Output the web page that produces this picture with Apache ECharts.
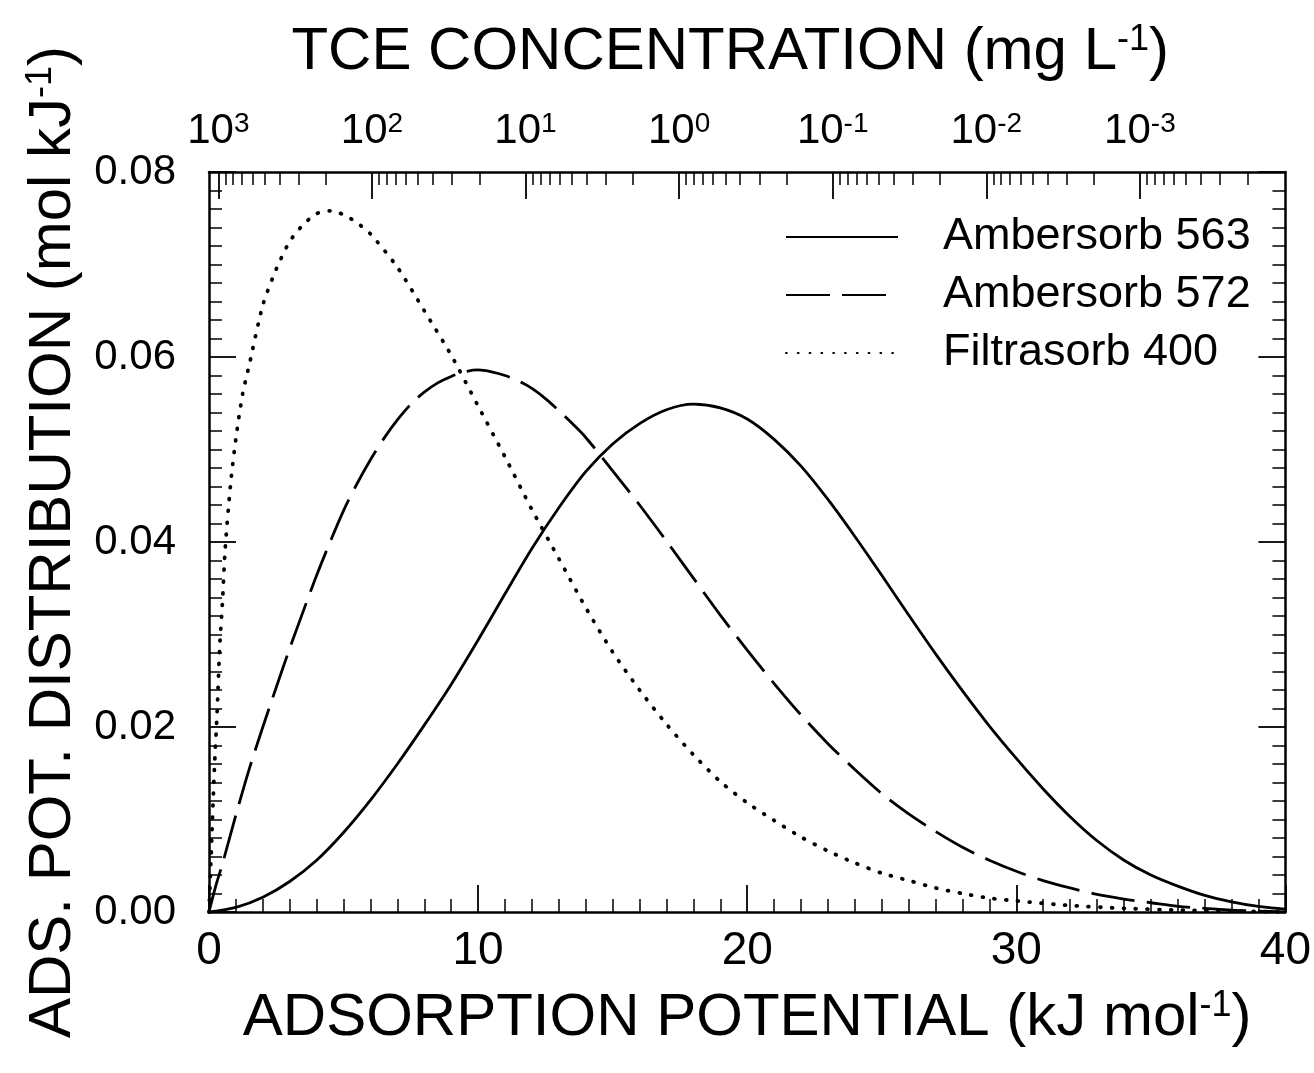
<!DOCTYPE html>
<html>
<head>
<meta charset="utf-8">
<script src="https://cdn.jsdelivr.net/npm/echarts@6/dist/echarts.min.js"></script>
<style>
  html, body { margin: 0; padding: 0; background: #fff; }
  #chart { width: 1314px; height: 1073px; }
</style>
</head>
<body>
<div id="chart"></div>
<script>
// adsorption potential (kJ/mol) and distribution values
const potential563 = [0,1,2,3,4,5,6,7,8,9,10,11,12,13,14,15,16,17,18,19,20,21,22,23,24,25,26,27,28,29,30,31,32,33,34,35,36,37,38,39,40];
const dist563 = [0,0.0005,0.0016,0.0033,0.0056,0.0086,0.0121,0.0160,0.0202,0.0246,0.0294,0.0344,0.0393,0.0437,0.0476,0.0506,0.0528,0.0543,0.0549,0.0545,0.0533,0.0511,0.0482,0.0446,0.0406,0.0364,0.0321,0.0279,0.0239,0.0201,0.0166,0.0133,0.0103,0.0077,0.0056,0.0040,0.0028,0.0018,0.0011,0.0006,0.0003];

const potential572 = [0,0.25,0.5,1,1.5,2,2.5,3,3.5,4,4.5,5,5.5,6,6.5,7,7.5,8,8.5,9,9.5,10,10.5,11,11.5,12,12.5,13,13.5,14,15,16,17,18,19,20,21,22,23,24,25,26,27,28,29,30,31,32,33,34,35,36,37,38,39,40];
const dist572 = [0,0.0028,0.0052,0.0105,0.0155,0.0200,0.0243,0.0285,0.0325,0.0364,0.0400,0.0434,0.0463,0.0489,0.0512,0.0532,0.0549,0.0562,0.0572,0.0579,0.0584,0.0586,0.0584,0.0580,0.0574,0.0566,0.0555,0.0542,0.0528,0.0513,0.0477,0.0440,0.0401,0.0361,0.0321,0.0283,0.0247,0.0213,0.0182,0.0154,0.0128,0.0106,0.0087,0.0070,0.0056,0.0044,0.0034,0.0026,0.0019,0.0014,0.0010,0.0006,0.0004,0.0002,0.0001,0];

const potential400 = [0,0.1,0.2,0.3,0.4,0.5,0.6,0.8,1,1.25,1.5,2,2.5,3,3.5,4,4.5,5,5.5,6,7,8,9,10,11,12,13,14,15,16,17,18,19,20,21,22,23,24,25,26,27,28,29,30,32,34,36,38,40];
const dist400 = [0,0.0078,0.0155,0.0215,0.0288,0.0335,0.0392,0.0462,0.0512,0.0560,0.0592,0.0656,0.0695,0.0725,0.0743,0.0755,0.0758,0.0754,0.0745,0.0733,0.0697,0.0650,0.0602,0.0547,0.0492,0.0435,0.0382,0.0329,0.0281,0.0240,0.0203,0.0170,0.0141,0.0118,0.0099,0.0081,0.0066,0.0053,0.0042,0.0034,0.0026,0.0020,0.0015,0.0012,0.0007,0.0004,0.0002,0.0001,0];

const seriesNames = ['Ambersorb 563', 'Ambersorb 572', 'Filtrasorb 400'];

// top axis: TCE concentration (mg/L), log ticks
const concMajorExp = [3, 2, 1, 0, -1, -2, -3];
const concMinorMult = [2, 3, 4, 5, 6, 7, 8, 9];
const concMinorExp = [2, 1, 0, -1, -2, -3, -4];
const solubility = 1150;      // mg/L
const RT = 8.314e-3 * 298.15; // kJ/mol

const FONT = '"Liberation Sans", Arial, Helvetica, sans-serif';

function potentialOf(c) {
    return RT * Math.log(solubility / c);
}
let majorPos = concMajorExp.map(k => potentialOf(Math.pow(10, k)));
let minorPos = [];
concMinorExp.forEach(k => {
    concMinorMult.forEach(m => {
        let e = potentialOf(m * Math.pow(10, k));
        if (e >= 0 && e <= 40) minorPos.push(e);
    });
});

function pairs(xs, ys) {
    return xs.map((x, i) => [x, ys[i]]);
}

let myChart = echarts.init(document.getElementById('chart'));

let axisLine = { show: true, onZero: false, lineStyle: { color: '#000', width: 2.5 } };
let sup = { fontSize: 28, verticalAlign: 'top', fontFamily: FONT, color: '#000' };
let supTitle = { fontSize: 36, verticalAlign: 'top', fontFamily: FONT, color: '#000' };

let option = {
    backgroundColor: '#fff',
    animation: false,
    grid: { left: 209, right: 28, top: 172, bottom: 161 },
    legend: {
        orient: 'vertical',
        left: 780,
        top: 207,
        itemWidth: 112,
        itemHeight: 10,
        itemGap: 8,
        data: seriesNames,
        itemStyle: { opacity: 0 },
        textStyle: { color: '#000', fontSize: 45, fontFamily: FONT, lineHeight: 50, padding: [0, 0, 0, 40] }
    },
    xAxis: [
        {
            type: 'value',
            position: 'bottom',
            min: 0, max: 40, interval: 10,
            name: 'ADSORPTION POTENTIAL (kJ mol{sup|-1})',
            nameLocation: 'middle',
            nameGap: 76,
            nameTextStyle: { color: '#000', fontSize: 60, fontFamily: FONT, rich: { sup: supTitle } },
            axisLine: axisLine,
            axisTick: { inside: true, length: 27, lineStyle: { color: '#000', width: 1.8 } },
            minorTick: { show: true, splitNumber: 10, length: 13, lineStyle: { color: '#000', width: 1.5 } },
            axisLabel: { color: '#000', fontSize: 46, fontFamily: FONT, margin: 16 },
            splitLine: { show: false }
        },
        {
            type: 'value',
            position: 'top',
            min: 0, max: 40,
            name: 'TCE CONCENTRATION (mg L{sup|-1})',
            nameLocation: 'middle',
            nameGap: 90,
            nameTextStyle: { color: '#000', fontSize: 60, fontFamily: FONT, padding: [0, 34, 0, 0], rich: { sup: supTitle } },
            axisLine: axisLine,
            axisTick: { inside: true, length: 27, customValues: majorPos, lineStyle: { color: '#000', width: 1.8 } },
            axisLabel: {
                color: '#000', fontSize: 42, fontFamily: FONT, margin: 20,
                customValues: majorPos,
                formatter: function (v) {
                    let k = Math.round(Math.log10(solubility) - v / (RT * Math.LN10));
                    return '10{sup|' + k + '}';
                },
                rich: { sup: sup }
            },
            splitLine: { show: false }
        },
        {
            type: 'value',
            position: 'top',
            min: 0, max: 40,
            axisLine: { show: false, onZero: false },
            axisTick: { inside: true, length: 13, customValues: minorPos, lineStyle: { color: '#000', width: 1.5 } },
            axisLabel: { show: false },
            splitLine: { show: false }
        }
    ],
    yAxis: [
        {
            type: 'value',
            position: 'left',
            min: 0, max: 0.08, interval: 0.02,
            name: 'ADS. POT. DISTRIBUTION (mol kJ{sup|-1})',
            nameLocation: 'middle',
            nameGap: 124,
            nameTextStyle: { color: '#000', fontSize: 60, fontFamily: FONT, rich: { sup: supTitle } },
            axisLine: axisLine,
            axisTick: { inside: true, length: 27, lineStyle: { color: '#000', width: 1.8 } },
            minorTick: { show: true, splitNumber: 10, length: 13, lineStyle: { color: '#000', width: 1.5 } },
            axisLabel: {
                color: '#000', fontSize: 42, fontFamily: FONT, margin: 33,
                formatter: v => v.toFixed(2)
            },
            splitLine: { show: false }
        },
        {
            type: 'value',
            position: 'right',
            min: 0, max: 0.08, interval: 0.02,
            axisLine: axisLine,
            axisTick: { inside: true, length: 27, lineStyle: { color: '#000', width: 1.8 } },
            minorTick: { show: true, splitNumber: 10, length: 13, lineStyle: { color: '#000', width: 1.5 } },
            axisLabel: { show: false },
            splitLine: { show: false }
        }
    ],
    series: [
        {
            name: seriesNames[0],
            type: 'line',
            showSymbol: false, symbol: 'none',
            smooth: 0.3,
            data: pairs(potential563, dist563),
            itemStyle: { color: '#000' },
            lineStyle: { color: '#000', width: 2.8, type: 'solid' }
        },
        {
            name: seriesNames[1],
            type: 'line',
            showSymbol: false, symbol: 'none',
            smooth: 0.3,
            data: pairs(potential572, dist572),
            itemStyle: { color: '#000' },
            lineStyle: { color: '#000', width: 2.8, type: [44, 12] }
        },
        {
            name: seriesNames[2],
            type: 'line',
            showSymbol: false, symbol: 'none',
            smooth: 0.25,
            data: pairs(potential400, dist400),
            itemStyle: { color: '#000' },
            lineStyle: { color: '#000', width: 3.8, type: [0.8, 11], cap: 'round' }
        }
    ]
};

myChart.setOption(option);
</script>
</body>
</html>
